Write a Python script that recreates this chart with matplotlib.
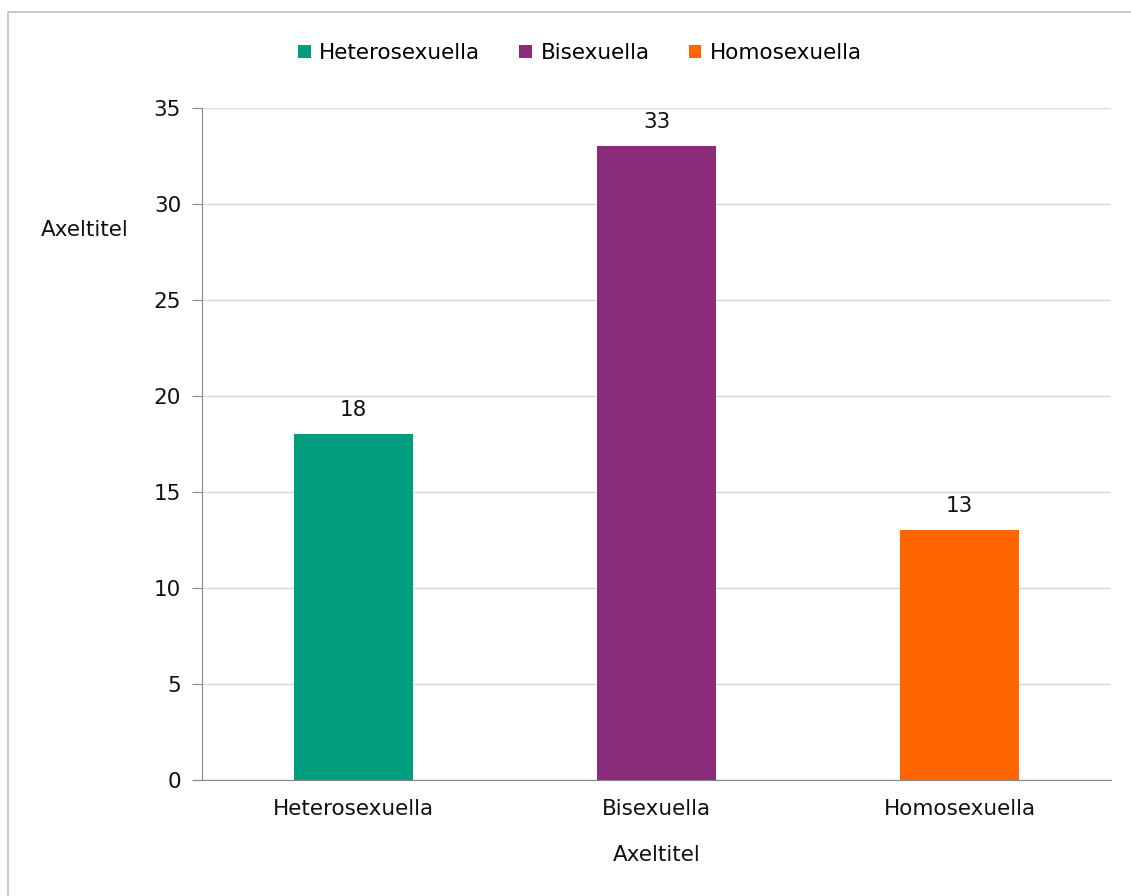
import matplotlib.pyplot as plt
import matplotlib.patches as mpatches
import numpy as np

categories = ["Heterosexuella", "Bisexuella", "Homosexuella"]
values = [18, 33, 13]
colors = ["#009E7E", "#8B2C7A", "#FF6600"]

fs = 15.5
fig = plt.figure(figsize=(11.31, 8.96), dpi=100)
ax = fig.add_axes([202/1131, 1-780/896, 909/1131, 672/896])

# outer chart frame (runs off the right/bottom edge in the reference)
fig.patches.append(mpatches.Rectangle((8/1131, -0.1), 1.2, 1.1 - 12/896,
                                      transform=fig.transFigure, fill=False,
                                      edgecolor="#BFBFBF", linewidth=1.2))

x = np.arange(len(categories))
bars = ax.bar(x, values, width=0.395, color=colors, label=categories, zorder=3)
for b, v in zip(bars, values):
    ax.text(b.get_x() + b.get_width()/2, v + 0.75, str(v), ha="center", va="bottom",
            fontsize=fs, color="#111111")

ax.set_xlim(-0.5, 2.5)
ax.set_ylim(0, 35)
ax.set_yticks(range(0, 36, 5))
ax.set_xticks(x)
ax.set_xticklabels(categories)
ax.tick_params(axis="y", length=7, color="#888888", labelsize=fs, pad=8, labelcolor="#111111")
ax.tick_params(axis="x", length=0, labelsize=fs, pad=14, labelcolor="#111111")
ax.grid(axis="y", color="#D9D9D9", linewidth=1, zorder=0)
for s in ["top", "right"]:
    ax.spines[s].set_visible(False)
ax.spines["left"].set_color("#888888")
ax.spines["bottom"].set_color("#888888")
ax.spines["bottom"].set_bounds(-0.53, 2.5)

fig.text(85/1131, 1-230/896, "Axeltitel", ha="center", va="center", fontsize=fs, color="#111111")
fig.text(657/1131, 1-855/896, "Axeltitel", ha="center", va="center", fontsize=fs, color="#111111")

ax.legend(loc="center", bbox_to_anchor=(580/1131, 1-53/896), bbox_transform=fig.transFigure,
          ncol=3, frameon=False, fontsize=fs, handlelength=0.6, handleheight=0.6,
          handletextpad=0.4, columnspacing=1.8)

fig.savefig("out.png", dpi=100, facecolor="white")
